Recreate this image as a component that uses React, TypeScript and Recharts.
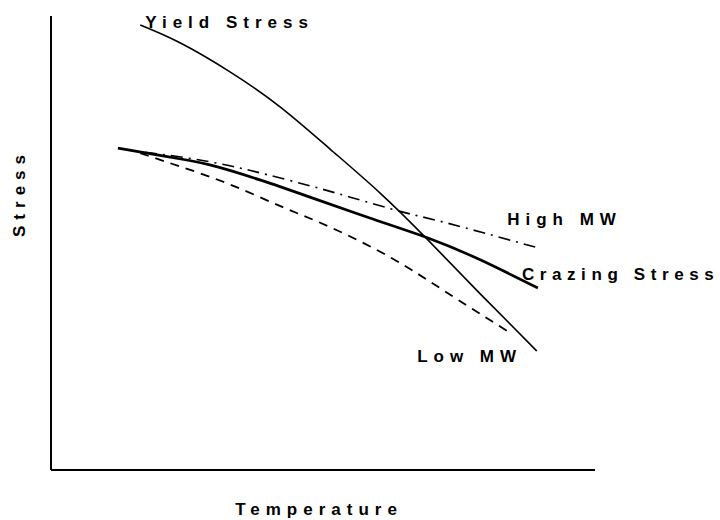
import React from "react";
import { LineChart, Line, XAxis, YAxis, ReferenceDot } from "recharts";

// Temperature (0-100, arbitrary units) and Stress (0-100, arbitrary units)
const yieldT = [16.4, 23.7, 32.9, 42.1, 51.3, 60.5, 69.1, 78.9, 89.3];
const yieldS = [98.0, 94.1, 87.7, 80.0, 70.7, 61.0, 50.9, 38.8, 26.2];

const crazeT = [12.3, 21.9, 29.2, 38.4, 47.6, 58.6, 69.3, 78.9, 89.5];
const crazeS = [70.9, 68.9, 67.2, 63.9, 60.1, 55.5, 51.1, 46.3, 40.1];

const highT = [17.3, 25.2, 32.9, 39.9, 47.6, 55.0, 64.7, 72.8, 89.0];
const highS = [70.0, 68.7, 67.0, 65.0, 62.6, 60.1, 56.8, 54.4, 49.1];

const lowT = [16.4, 20.6, 25.6, 33.5, 42.6, 51.3, 62.3, 72.1, 84.4];
const lowS = [69.8, 68.1, 66.1, 62.6, 57.9, 53.5, 46.9, 39.6, 30.2];

const seriesNames = ["Yield Stress", "Crazing Stress", "High MW", "Low MW"];
const xTitle = "Temperature";
const yTitle = "Stress";

const zip = (t: number[], s: number[]) => t.map((v, i) => ({ t: v, s: s[i] }));

const yieldData = zip(yieldT, yieldS);
const crazeData = zip(crazeT, crazeS);
const highData = zip(highT, highS);
const lowData = zip(lowT, lowS);

const FONT = {
  fontFamily: "'Liberation Sans', Arial, Helvetica, sans-serif",
  fontWeight: 700,
  fontSize: 17,
  letterSpacing: 6,
  fill: "#000",
};

const makeLabel = (text: string, dx: number, dy: number, ls = 6) => (props: any) => {
  const vb = props.viewBox || {};
  const x = (vb.x ?? 0) + (vb.width ?? 0) / 2 + dx;
  const y = (vb.y ?? 0) + (vb.height ?? 0) / 2 + dy;
  return (
    <text x={x} y={y} textAnchor="start" style={{ ...FONT, letterSpacing: ls } as any}>
      {text}
    </text>
  );
};

export default function App() {
  const yFirst = yieldData[0];
  const cLast = crazeData[crazeData.length - 1];
  const hLast = highData[highData.length - 1];
  const lLast = lowData[lowData.length - 1];
  return (
    <div style={{ position: "absolute", left: 0, top: 0, background: "#fff" }}>
      <LineChart
        width={720}
        height={520}
        margin={{ top: 16, right: 125, left: 0, bottom: 0 }}
      >
        <XAxis
          type="number"
          dataKey="t"
          domain={[0, 100]}
          tick={false}
          tickLine={false}
          axisLine={{ stroke: "#000", strokeWidth: 2 }}
          height={50}
          allowDataOverflow
          label={(p: any) => {
            const vb = p.viewBox || {};
            return (
              <text
                x={vb.x + vb.width / 2 - 4}
                y={vb.y + 45}
                textAnchor="middle"
                style={FONT as any}
              >
                {xTitle}
              </text>
            );
          }}
        />
        <YAxis
          type="number"
          dataKey="s"
          domain={[0, 100]}
          tick={false}
          tickLine={false}
          axisLine={{ stroke: "#000", strokeWidth: 2 }}
          width={51}
          allowDataOverflow
          label={(p: any) => {
            const vb = p.viewBox || {};
            const cx = 25;
            const cy = vb.y + 177;
            return (
              <text
                x={cx}
                y={cy}
                textAnchor="middle"
                transform={`rotate(-90, ${cx}, ${cy})`}
                style={FONT as any}
              >
                {yTitle}
              </text>
            );
          }}
        />
        <Line
          data={yieldData}
          dataKey="s"
          type="natural"
          stroke="#000"
          strokeWidth={1.6}
          dot={false}
          isAnimationActive={false}
        />
        <Line
          data={highData}
          dataKey="s"
          type="natural"
          stroke="#000"
          strokeWidth={1.6}
          strokeDasharray="12 6 2 6"
          dot={false}
          isAnimationActive={false}
        />
        <Line
          data={lowData}
          dataKey="s"
          type="natural"
          stroke="#000"
          strokeWidth={1.8}
          strokeDasharray="9 7"
          dot={false}
          isAnimationActive={false}
        />
        <Line
          data={crazeData}
          dataKey="s"
          type="natural"
          stroke="#000"
          strokeWidth={2.7}
          dot={false}
          isAnimationActive={false}
        />
        <ReferenceDot x={yFirst.t} y={yFirst.s} r={0} fill="none" stroke="none" label={makeLabel(seriesNames[0], 5, 3)} />
        <ReferenceDot x={cLast.t} y={cLast.s} r={0} fill="none" stroke="none" label={makeLabel(seriesNames[1], -16, -8, 5.6)} />
        <ReferenceDot x={hLast.t} y={hLast.s} r={0} fill="none" stroke="none" label={makeLabel(seriesNames[2], -28, -22)} />
        <ReferenceDot x={lLast.t} y={lLast.s} r={0} fill="none" stroke="none" label={makeLabel(seriesNames[3], -93, 29)} />
      </LineChart>
    </div>
  );
}
